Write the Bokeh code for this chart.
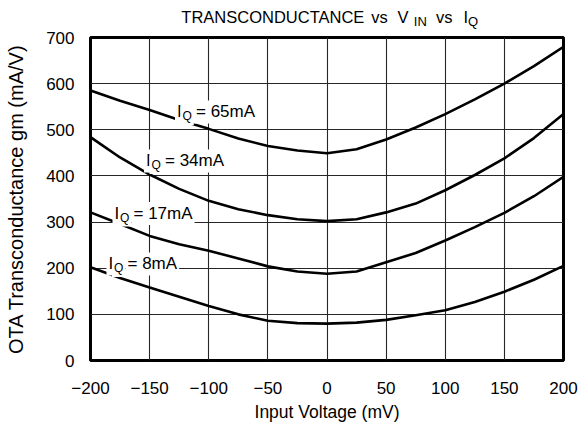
from bokeh.plotting import figure
from bokeh.models import Range1d, FixedTicker, Label, Div
from bokeh.layouts import column
from bokeh.embed import file_html
from bokeh.resources import INLINE

# ---- data ----
vin_mv = [-200, -175, -150, -125, -100, -75, -50, -25, 0, 25, 50, 75, 100, 125, 150, 175, 200]
gm_65ma = [585, 563, 543, 521, 502, 481, 465, 455, 449, 458, 479, 505, 534, 566, 600, 638, 680]
gm_34ma = [484, 440, 403, 372, 346, 328, 315, 306, 302, 306, 321, 340, 369, 402, 438, 482, 534]
gm_17ma = [321, 296, 270, 252, 238, 221, 204, 193, 188, 193, 213, 233, 260, 289, 320, 356, 398]
gm_8ma = [202, 179, 158, 138, 118, 100, 86, 81, 80, 82, 88, 98, 109, 127, 149, 175, 205]

series = [gm_65ma, gm_34ma, gm_17ma, gm_8ma]
series_names = ["65mA", "34mA", "17mA", "8mA"]

x_ticks = [-200, -150, -100, -50, 0, 50, 100, 150, 200]
x_tick_labels = ["\u2212200", "\u2212150", "\u2212100", "\u221250", "0", "50", "100", "150", "200"]
y_ticks = [0, 100, 200, 300, 400, 500, 600, 700]

# title: TRANSCONDUCTANCE vs V_IN vs I_Q
title_words = ["TRANSCONDUCTANCE", "vs", "V", "IN", "vs", "I", "Q"]

# ---- layout / style ----
FONT = "Liberation Sans"
label_dx = [84.5, 53.5, 22.0, 16.0]     # px from frame left
label_dy = [248.6, 199.6, 146.9, 96.6]  # px above frame bottom

TITLE_H = 29
title_left = [181.3, 371.3, 397.5, 413.8, 435.9, 463.4, 468.0]
title_top = [8.7, 8.7, 8.7, 15.0, 8.7, 8.7, 15.0]
title_size = [16.5, 16.5, 16.5, 13, 16.5, 16.5, 13]

def span(text, left, top, size):
    return ('<span style="position:absolute;left:%.1fpx;top:%.1fpx;font-size:%.1fpx;'
            'line-height:%.1fpx;white-space:nowrap;">%s</span>' % (left, top, size, size, text))

title_html = ('<div style="position:relative;width:579px;height:%dpx;font-family:\'%s\';color:black;">' % (TITLE_H, FONT)
              + "".join(span(t, l, tp, s) for t, l, tp, s in zip(title_words, title_left, title_top, title_size))
              + '</div>')
title_div = Div(text=title_html, width=579, height=TITLE_H, margin=(0, 0, 0, 0))

p = figure(width=579, height=425 - TITLE_H, output_backend="svg", toolbar_location=None,
           x_range=Range1d(-200, 200), y_range=Range1d(0, 700),
           min_border_left=90, min_border_right=16, min_border_top=8, min_border_bottom=65,
           background_fill_color="white", border_fill_color="white", margin=(0, 0, 0, 0))

p.outline_line_color = "black"
p.outline_line_width = 3

for ax in (p.xaxis[0], p.yaxis[0]):
    ax.axis_line_color = None
    ax.major_tick_line_color = None
    ax.minor_tick_line_color = None
    ax.major_tick_out = 0
    ax.major_tick_in = 0
    ax.major_label_text_font = FONT
    ax.major_label_text_font_size = "17px"
    ax.major_label_text_color = "black"
    ax.axis_label_text_font = FONT
    ax.axis_label_text_font_style = "normal"
    ax.axis_label_text_color = "black"

p.xaxis.ticker = FixedTicker(ticks=x_ticks)
p.xaxis.major_label_overrides = {t: s for t, s in zip(x_ticks, x_tick_labels)}
p.xaxis.major_label_standoff = 21
p.xaxis.axis_label = "Input Voltage (mV)"
p.xaxis.axis_label_text_font_size = "17.5px"
p.xaxis.axis_label_standoff = 5

p.yaxis.ticker = FixedTicker(ticks=y_ticks)
p.yaxis.major_label_standoff = 16
p.yaxis.axis_label = "OTA Transconductance gm (mA/V)"
p.yaxis.axis_label_text_font_size = "20px"
p.yaxis.axis_label_standoff = 16

p.xgrid.ticker = FixedTicker(ticks=x_ticks)
p.ygrid.ticker = FixedTicker(ticks=y_ticks)
for g in (p.xgrid[0], p.ygrid[0]):
    g.grid_line_color = "#262626"
    g.grid_line_width = 1.1

for ys in series:
    p.line(vin_mv, ys, line_color="black", line_width=2.6, line_join="round")

def add_label(text, dx, dy, size, bg=None):
    lab = Label(x=-200, y=0, x_units="data", y_units="data", x_offset=dx, y_offset=dy,
                text=text, text_font=FONT, text_font_size=size, text_color="black",
                text_baseline="alphabetic", text_align="left")
    if bg:
        lab.background_fill_color = bg
        lab.padding = 2
    p.add_layout(lab)

# curve labels: I_Q = xxmA
for name, dx, dy in zip(series_names, label_dx, label_dy):
    add_label("I", dx, dy, "17px", "white")
    add_label("Q", dx + 5.5, dy - 4, "12px", "white")
    add_label("= " + name, dx + 19, dy, "17px", "white")

layout = column(title_div, p, spacing=0)
open("out.html", "w").write(file_html(layout, INLINE))
